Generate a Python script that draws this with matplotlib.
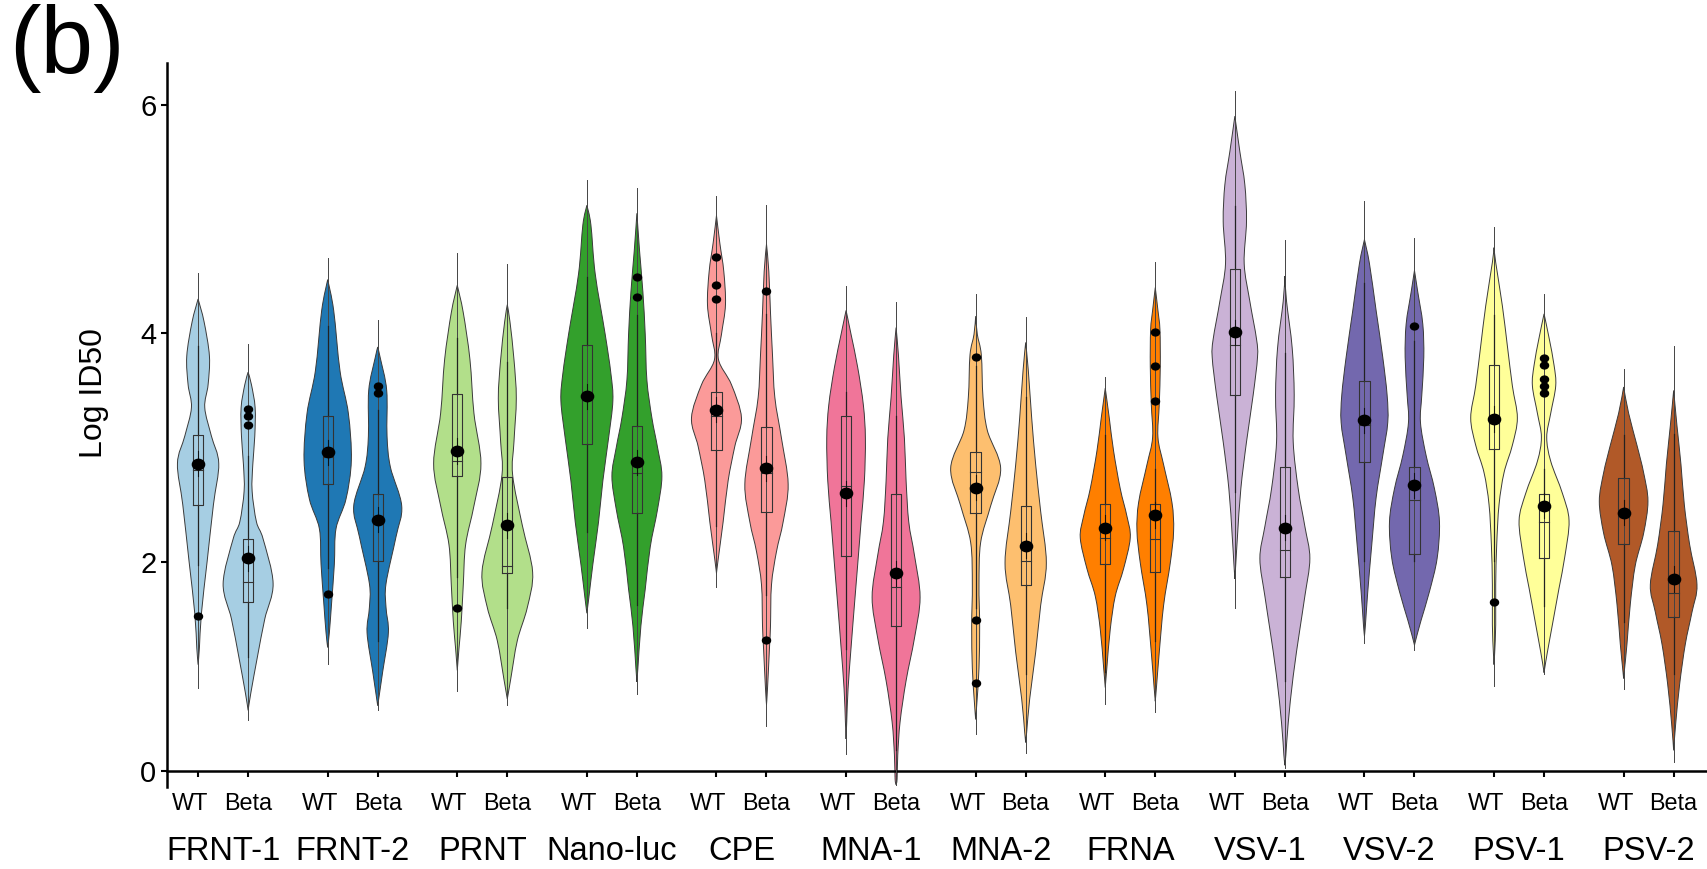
import numpy as np
import matplotlib

matplotlib.use("Agg")
import matplotlib.pyplot as plt
from matplotlib import transforms
from matplotlib.path import Path
from matplotlib.patches import PathPatch

plt.rcParams["font.family"] = ["Liberation Sans", "DejaVu Sans"]

ASSAYS = ["FRNT-1", "FRNT-2", "PRNT", "Nano-luc", "CPE", "MNA-1",
          "MNA-2", "FRNA", "VSV-1", "VSV-2", "PSV-1", "PSV-2"]
COLORS = ["#a6cee3", "#1f78b4", "#b2df8a", "#33a02c", "#fb9a99", "#f07599",
          "#fdbf6f", "#ff7f00", "#cab2d6", "#7368ae", "#ffff99", "#b15928"]

# violin outline: (log ID50, relative density), top to bottom
WT_PROFILES = [
    [(4.30, 0), (4.10, 18), (3.80, 34), (3.55, 30), (3.35, 20), (3.10, 40), (2.86, 62),
     (2.50, 46), (2.00, 27), (1.55, 10), (1.25, 4), (1.10, 0)],
    [(4.47, 0), (4.20, 18), (3.67, 37), (3.30, 62), (2.89, 71), (2.55, 55), (2.29, 25),
     (1.98, 20), (1.65, 12), (1.38, 5), (1.25, 0)],
    [(4.42, 0), (4.18, 18), (3.77, 38), (3.30, 50), (2.86, 71), (2.49, 50), (2.15, 25),
     (1.80, 18), (1.48, 12), (1.24, 5), (1.05, 0)],
    [(5.12, 0), (4.95, 12), (4.52, 25), (3.99, 55), (3.65, 72), (3.41, 78), (3.08, 65),
     (2.71, 48), (2.35, 35), (1.98, 18), (1.69, 6), (1.55, 0)],
    [(5.03, 0), (4.79, 10), (4.54, 22), (4.25, 27), (3.99, 15), (3.77, 6), (3.55, 45),
     (3.26, 75), (3.01, 55), (2.71, 35), (2.35, 20), (2.02, 5), (1.90, 0)],
    [(4.20, 0), (3.99, 15), (3.70, 35), (3.37, 52), (3.08, 58), (2.71, 55), (2.35, 45),
     (1.98, 35), (1.62, 25), (1.25, 15), (0.89, 6), (0.60, 2), (0.45, 0)],
    [(4.15, 0), (3.99, 5), (3.81, 17), (3.44, 22), (3.15, 35), (2.82, 75), (2.49, 45),
     (2.17, 15), (1.80, 10), (1.44, 12), (1.07, 10), (0.78, 4), (0.62, 0)],
    [(3.52, 0), (3.26, 12), (2.97, 25), (2.64, 45), (2.40, 65), (2.21, 75), (1.94, 55),
     (1.70, 30), (1.41, 15), (1.08, 5), (0.90, 0)],
    [(5.90, 0), (5.59, 15), (5.30, 30), (4.98, 35), (4.61, 28), (4.28, 45), (3.95, 65),
     (3.79, 68), (3.46, 55), (3.05, 35), (2.64, 18), (2.23, 8), (1.99, 3), (1.85, 0)],
    [(4.82, 0), (4.61, 15), (4.20, 35), (3.79, 55), (3.46, 68), (3.22, 70), (2.93, 55),
     (2.56, 35), (2.15, 22), (1.74, 10), (1.45, 3), (1.35, 0)],
    [(4.75, 0), (4.62, 5), (4.24, 25), (3.89, 40), (3.54, 55), (3.26, 70), (3.02, 55),
     (2.78, 30), (2.50, 15), (2.15, 8), (1.80, 5), (1.45, 5), (1.21, 2), (1.10, 0)],
    [(3.53, 0), (3.30, 15), (3.02, 40), (2.78, 60), (2.53, 73), (2.25, 60), (1.97, 35),
     (1.63, 20), (1.28, 10), (1.07, 3), (0.98, 0)],
]
BETA_PROFILES = [
    [(3.66, 0), (3.55, 10), (3.35, 21), (3.10, 20), (2.85, 14), (2.62, 12), (2.35, 25),
     (2.20, 45), (1.81, 75), (1.50, 50), (1.17, 28), (0.85, 8), (0.70, 0)],
    [(3.88, 0), (3.78, 8), (3.50, 27), (3.10, 28), (2.83, 38), (2.49, 72), (2.22, 55),
     (1.81, 25), (1.60, 25), (1.38, 32), (1.04, 15), (0.84, 5), (0.74, 0)],
    [(4.25, 0), (4.10, 8), (3.77, 20), (3.43, 27), (3.05, 20), (2.76, 16), (2.32, 45),
     (1.91, 76), (1.60, 60), (1.31, 30), (0.97, 10), (0.80, 0)],
    [(5.05, 0), (4.72, 8), (4.36, 18), (3.99, 25), (3.59, 30), (3.26, 45), (3.00, 62),
     (2.75, 75), (2.46, 62), (2.13, 40), (1.76, 25), (1.44, 12), (1.07, 3), (0.95, 0)],
    [(4.78, 0), (4.54, 7), (4.18, 12), (3.81, 18), (3.44, 25), (3.08, 45), (2.68, 65),
     (2.35, 50), (2.09, 30), (1.80, 15), (1.44, 12), (1.25, 9), (0.89, 3), (0.75, 0)],
    [(4.05, 0), (3.81, 7), (3.44, 15), (3.08, 25), (2.71, 30), (2.35, 38), (2.06, 55),
     (1.69, 72), (1.33, 55), (0.96, 30), (0.60, 12), (0.31, 5), (0.10, 3), (0.05, 0)],
    [(3.92, 0), (3.67, 8), (3.26, 18), (2.85, 30), (2.44, 45), (1.99, 62), (1.62, 45),
     (1.21, 30), (0.80, 12), (0.51, 3), (0.42, 0)],
    [(4.40, 0), (4.20, 8), (4.03, 14), (3.71, 15), (3.38, 12), (3.09, 8), (2.85, 25),
     (2.52, 50), (2.27, 55), (1.99, 45), (1.62, 25), (1.21, 12), (0.92, 4), (0.78, 0)],
    [(4.50, 0), (4.28, 5), (3.87, 22), (3.46, 28), (3.05, 25), (2.64, 40), (2.31, 60),
     (2.03, 75), (1.70, 60), (1.41, 45), (1.00, 25), (0.59, 10), (0.31, 3), (0.22, 0)],
    [(4.55, 0), (4.36, 10), (4.08, 25), (3.79, 28), (3.46, 22), (3.22, 18), (2.93, 35),
     (2.64, 60), (2.35, 75), (2.03, 68), (1.74, 45), (1.49, 20), (1.33, 5), (1.27, 0)],
    [(4.17, 0), (3.96, 15), (3.72, 30), (3.54, 35), (3.30, 20), (3.09, 8), (2.88, 20),
     (2.60, 55), (2.36, 75), (2.04, 62), (1.77, 45), (1.45, 25), (1.21, 10), (1.07, 2),
     (1.03, 0)],
    [(3.50, 0), (3.19, 10), (2.85, 22), (2.50, 32), (2.15, 48), (1.80, 70), (1.56, 55),
     (1.28, 35), (0.93, 18), (0.58, 6), (0.35, 0)],
]

# thin line running past the violin ends (low, high)
WT_TAILS = [(0.90, 4.53), (1.11, 4.66), (0.87, 4.70), (1.42, 5.34), (1.78, 5.20), (0.32, 4.41),
            (0.49, 4.34), (0.76, 3.62), (1.60, 6.12), (1.29, 5.16), (0.91, 4.93), (0.89, 3.69)]
BETA_TAILS = [(0.62, 3.91), (0.70, 4.12), (0.75, 4.61), (0.84, 5.27), (0.56, 5.12), (0.05, 4.27),
              (0.33, 4.14), (0.69, 4.62), (0.20, 4.82), (1.23, 4.83), (1.02, 4.34), (0.25, 3.89)]

# box stats: (whisker low, q1, median, q3, whisker high)
WT_BOX = [(1.97, 2.50, 2.80, 3.11, 3.89), (1.95, 2.68, 2.92, 3.28, 4.06),
          (1.87, 2.75, 2.88, 3.47, 3.96), (2.26, 3.03, 3.44, 3.90, 4.49),
          (2.31, 2.98, 3.28, 3.49, 4.00), (1.24, 2.05, 2.66, 3.28, 3.49),
          (1.60, 2.43, 2.79, 2.96, 3.71), (1.04, 1.98, 2.21, 2.51, 3.11),
          (2.61, 3.46, 3.90, 4.56, 5.11), (2.01, 2.87, 3.20, 3.58, 4.44),
          (2.01, 2.99, 3.24, 3.72, 4.16), (1.47, 2.16, 2.43, 2.73, 3.11)]
BETA_BOX = [(1.17, 1.65, 1.82, 2.20, 2.93), (1.31, 2.01, 2.35, 2.59, 3.33),
            (1.60, 1.90, 1.96, 2.74, 3.75), (1.62, 2.43, 2.78, 3.19, 4.16),
            (1.71, 2.44, 2.78, 3.18, 4.17), (0.35, 1.44, 1.78, 2.59, 3.28),
            (1.02, 1.80, 2.01, 2.49, 3.44), (1.31, 1.91, 2.20, 2.51, 2.81),
            (0.96, 1.87, 2.10, 2.83, 3.83), (2.01, 2.07, 2.54, 2.83, 3.93),
            (1.61, 2.03, 2.35, 2.59, 2.81), (1.02, 1.52, 1.73, 2.27, 3.12)]

WT_MEANS = [2.86, 2.96, 2.97, 3.45, 3.33, 2.60, 2.65, 2.30, 4.01, 3.24, 3.25, 2.43]
BETA_MEANS = [2.03, 2.37, 2.32, 2.87, 2.82, 1.90, 2.14, 2.41, 2.30, 2.67, 2.49, 1.85]
MEAN_CI = 0.11

WT_OUTLIERS = [[1.53], [1.72], [1.60], [], [4.67, 4.42, 4.30], [],
               [3.79, 1.49, 0.94], [], [], [], [1.65], []]
BETA_OUTLIERS = [[3.34, 3.28, 3.20], [3.54, 3.48], [], [4.49, 4.32], [4.37, 1.32], [],
                 [], [4.01, 3.71, 3.41], [], [4.06], [3.78, 3.72, 3.60, 3.54, 3.48], []]

BETA_SHIFT = 0.386
DENSITY_SCALE = 1 / 389.0
BOX_HALF = 0.04
AXIS_ZERO = 0.17  # where the original puts its "0" baseline


def smooth_side(points):
    pts = np.asarray(points, dtype=float)
    n = len(pts)
    verts, codes = [pts[0]], [Path.MOVETO]
    for i in range(n - 1):
        p0 = pts[i - 1] if i > 0 else pts[i]
        p1, p2 = pts[i], pts[i + 1]
        p3 = pts[i + 2] if i + 2 < n else pts[i + 1]
        verts += [p1 + (p2 - p0) / 6, p2 - (p3 - p1) / 6, p2]
        codes += [Path.CURVE4] * 3
    return verts, codes


def draw_violin(ax, xc, profile, tail, box, mean, outliers, color):
    ys = np.array([p[0] for p in profile])
    ws = np.array([p[1] for p in profile]) * DENSITY_SCALE
    right = list(zip(xc + ws, ys))
    left = list(zip(xc - ws, ys))[::-1]
    vr, cr = smooth_side(right)
    vl, cl = smooth_side(left)
    verts = vr + vl[1:] + [vr[0]]
    codes = cr + cl[1:] + [Path.CLOSEPOLY]
    ax.add_patch(PathPatch(Path(verts, codes), facecolor=color, edgecolor="#3a3a3a",
                           lw=0.7, zorder=2))
    ax.plot([xc, xc], tail, color="#444444", lw=0.7, zorder=3)
    wlo, q1, med, q3, whi = box
    ax.plot([xc, xc], [wlo, q1], color="#222222", lw=0.9, zorder=3)
    ax.plot([xc, xc], [q3, whi], color="#222222", lw=0.9, zorder=3)
    ax.plot([xc - BOX_HALF, xc + BOX_HALF, xc + BOX_HALF, xc - BOX_HALF, xc - BOX_HALF],
            [q1, q1, q3, q3, q1], color="#333333", lw=0.8, zorder=3)
    ax.plot([xc - BOX_HALF, xc + BOX_HALF], [med, med], color="#333333", lw=0.8, zorder=3)
    ax.plot([xc, xc], [mean - MEAN_CI, mean + MEAN_CI], color="#111111", lw=0.8, zorder=4)
    ax.plot([xc], [mean], linestyle="none", marker=DOT, markersize=8.8, color="black", zorder=5)
    if outliers:
        ax.plot([xc] * len(outliers), outliers, linestyle="none", marker=DOT,
                markersize=5.8, color="black", zorder=5)


circle = Path.unit_circle()
DOT = Path(circle.vertices * np.array([1.0, 0.85]), circle.codes)

fig = plt.figure(figsize=(17.08, 8.69), dpi=100)
ax = fig.add_axes([0.098, 0.0944, 0.902, 0.8331])

for i, name in enumerate(ASSAYS):
    draw_violin(ax, i, WT_PROFILES[i], WT_TAILS[i], WT_BOX[i], WT_MEANS[i],
                WT_OUTLIERS[i], COLORS[i])
    draw_violin(ax, i + BETA_SHIFT, BETA_PROFILES[i], BETA_TAILS[i], BETA_BOX[i],
                BETA_MEANS[i], BETA_OUTLIERS[i], COLORS[i])

ax.set_xlim(-0.237, 11.651)
ax.set_ylim(0.03, 6.365)

for side in ("top", "right"):
    ax.spines[side].set_visible(False)
ax.spines["bottom"].set_position(("data", AXIS_ZERO))
for side in ("left", "bottom"):
    ax.spines[side].set_linewidth(1.8)
    ax.spines[side].set_color("black")

ax.set_yticks([AXIS_ZERO, 2, 4, 6])
ax.set_yticklabels(["0", "2", "4", "6"], fontsize=21)
ax.tick_params(axis="y", direction="out", length=4, width=1.5, pad=4)

pos = []
labels = []
for i in range(len(ASSAYS)):
    pos += [i, i + BETA_SHIFT]
    labels += ["WT", "Beta"]
ax.set_xticks(pos)
ax.set_xticklabels(labels, fontsize=16.8)
ax.tick_params(axis="x", direction="out", length=4.5, width=1.5, pad=11)
shift = transforms.ScaledTranslation(-8 / 100, 0, fig.dpi_scale_trans)
for lab in ax.get_xticklabels()[::2]:
    lab.set_transform(lab.get_transform() + shift)

grp = transforms.blended_transform_factory(ax.transData, fig.transFigure)
for i, name in enumerate(ASSAYS):
    fig.text(i + BETA_SHIFT / 2, 0.0104, name, transform=grp, ha="center",
             va="baseline", fontsize=23.5)

fig.text(94 / 1708, 1 - 393 / 869, "Log ID50", rotation=90, ha="center", va="center",
         fontsize=23)
fig.text(9 / 1708, 1 - 4 / 869, "(b)", ha="left", va="top", fontsize=68)

fig.savefig("out.png", dpi=100, facecolor="white")
